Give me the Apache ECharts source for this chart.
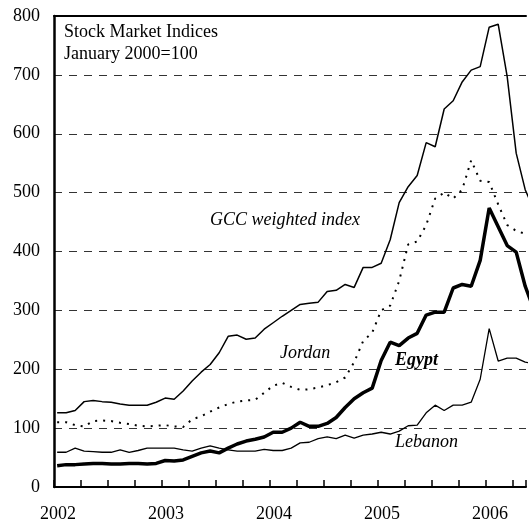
<html>
<head>
    <meta http-equiv="Content-Type" content="text/html; charset=utf-8">
    <title>Stock Market Indices</title>
    <style>body{margin:0;background:#fff;}</style>
</head>
<body>
<div id="main" style="width:529px;height:523px;"></div>
<script type="text/javascript" src="https://cdn.jsdelivr.net/npm/echarts@6/dist/echarts.min.js"></script>
<script type="text/javascript">
// monthly observations, first one is January 2002
var startYear = 2002;
var gcc = [126,126,130,145,147,145,144,141,139,139,139,144,151,149,163,180,195,208,228,256,
    258,251,253,268,279,290,300,310,312,314,332,334,344,339,373,373,380,420,483,510,
    529,585,578,642,656,688,708,714,781,786,697,567,505,470];
var jordan = [110,110,105,103,112,113,112,109,107,104,103,104,105,103,102,115,120,128,135,141,
    145,147,148,160,172,177,170,165,166,169,173,178,186,212,248,262,300,308,350,412,
    417,445,490,500,490,505,555,520,518,480,445,435,430,428];
var egypt = [36,38,38,39,40,40,39,39,40,40,39,40,45,44,46,52,58,61,58,66,
    73,78,81,85,93,93,100,110,103,103,108,118,135,150,160,168,215,246,240,253,
    261,292,297,297,338,344,341,385,474,442,410,399,341,300];
var lebanon = [59,59,66,61,60,59,59,63,59,62,66,66,66,66,63,61,66,70,66,63,
    61,61,61,64,62,62,66,75,76,82,85,82,88,83,88,90,93,90,95,104,
    105,126,139,130,139,139,144,183,269,214,219,219,212,210];
var yearTicks = [2002, 2003, 2004, 2005, 2006];

function pairs(arr) {
    var out = [];
    for (var i = 0; i < arr.length; i++) {
        out.push([startYear + (i + 0.35) / 12, arr[i]]);
    }
    return out;
}

var font = 'Liberation Serif';
var myChart = echarts.init(document.getElementById("main"));

var option = {
    animation: false,
    textStyle: {fontFamily: font},
    grid: {left: 54, top: 16, right: 0, bottom: 35},
    xAxis: [{
        type: 'value', min: 2002, max: 2006.37, interval: 0.25,
        axisLine: {lineStyle: {color: '#000', width: 2}},
        axisTick: {inside: true, length: 7, lineStyle: {color: '#000', width: 1.5}},
        axisLabel: {
            fontFamily: font, fontSize: 18, color: '#000', margin: 18, padding: [0, 0, 0, 8],
            formatter: function (v) { return yearTicks.indexOf(v) >= 0 ? String(v) : ''; }
        },
        splitLine: {show: false}
    }, {
        type: 'value', position: 'top', min: 2002, max: 2006.37,
        axisLine: {show: true, lineStyle: {color: '#000', width: 2}},
        axisTick: {show: false}, axisLabel: {show: false}, splitLine: {show: false}
    }],
    yAxis: {
        type: 'value', min: 0, max: 800, interval: 100,
        axisLine: {show: true, lineStyle: {color: '#000', width: 2.5}},
        axisTick: {show: false},
        axisLabel: {fontFamily: font, fontSize: 18, color: '#000', margin: 14},
        splitLine: {lineStyle: {color: '#333', width: 1, type: [8, 7]}}
    },
    series: [
        {name: 'GCC weighted index', type: 'line', data: pairs(gcc), showSymbol: false,
            lineStyle: {color: '#000', width: 1.5}},
        {name: 'Jordan', type: 'line', data: pairs(jordan), showSymbol: false,
            lineStyle: {color: '#000', width: 2, type: [2, 6]}},
        {name: 'Lebanon', type: 'line', data: pairs(lebanon), showSymbol: false,
            lineStyle: {color: '#000', width: 1.3}},
        {name: 'Egypt', type: 'line', data: pairs(egypt), showSymbol: false,
            lineStyle: {color: '#000', width: 3.5}}
    ],
    graphic: [
        {type: 'text', left: 64, top: 23, style: {text: 'Stock Market Indices', font: '18px "Liberation Serif"', fill: '#000'}},
        {type: 'text', left: 64, top: 45, style: {text: 'January 2000=100', font: '18px "Liberation Serif"', fill: '#000'}},
        {type: 'text', left: 210, top: 211, style: {text: 'GCC weighted index', font: 'italic 18px "Liberation Serif"', fill: '#000'}},
        {type: 'text', left: 280, top: 344, style: {text: 'Jordan', font: 'italic 18px "Liberation Serif"', fill: '#000'}},
        {type: 'text', left: 395, top: 351, style: {text: 'Egypt', font: 'italic bold 18px "Liberation Serif"', fill: '#000'}},
        {type: 'text', left: 395, top: 433, style: {text: 'Lebanon', font: 'italic 18px "Liberation Serif"', fill: '#000'}}
    ]
};
myChart.setOption(option);
</script>
</body>
</html>
